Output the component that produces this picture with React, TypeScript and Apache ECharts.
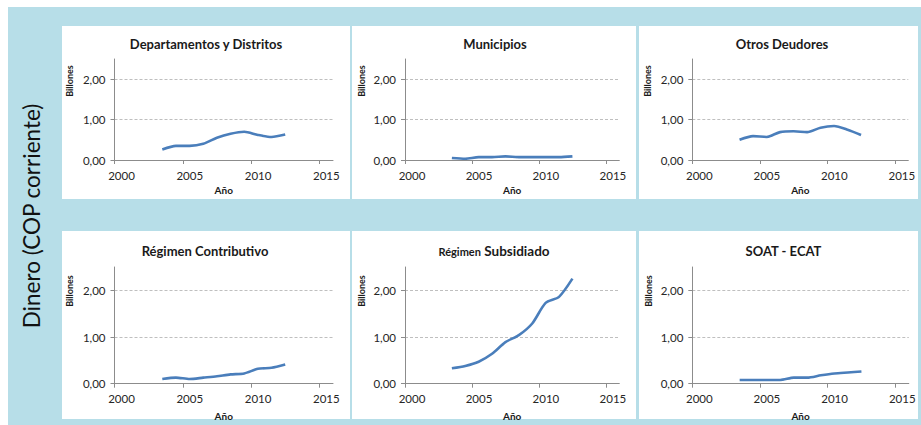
import React, { useEffect, useRef } from "react";
import * as echarts from "echarts";

// ---- data ----
const years = [2003, 2004, 2005, 2006, 2007, 2008, 2009, 2010, 2011, 2012];
const departamentos = [0.26, 0.35, 0.35, 0.4, 0.55, 0.65, 0.7, 0.62, 0.57, 0.63];
const municipios = [0.05, 0.03, 0.07, 0.07, 0.09, 0.07, 0.07, 0.07, 0.07, 0.09];
const otrosDeudores = [0.5, 0.59, 0.57, 0.69, 0.71, 0.69, 0.8, 0.84, 0.75, 0.62];
const contributivo = [0.1, 0.13, 0.1, 0.13, 0.16, 0.2, 0.22, 0.32, 0.34, 0.41];
const subsidiado = [0.33, 0.38, 0.47, 0.64, 0.89, 1.04, 1.29, 1.73, 1.86, 2.25];
const soatEcat = [0.08, 0.08, 0.08, 0.08, 0.13, 0.13, 0.18, 0.22, 0.24, 0.26];
const panelTitles = [
  "Departamentos y Distritos",
  "Municipios",
  "Otros Deudores",
  "Régimen Contributivo",
  "Régimen Subsidiado",
  "SOAT - ECAT",
];
const xTicks = [2000, 2005, 2010, 2015];
const yTicks = [0, 1, 2];
const xName = "Año";
const yName = "Billones";
const sideLabel = "Dinero (COP corriente)";

const seriesValues = [departamentos, municipios, otrosDeudores, contributivo, subsidiado, soatEcat];

// ---- layout (chart coordinates) ----
const FONT = "Lato, 'Open Sans', sans-serif";
const panels = [
  { x: 54, y: 19, w: 288, h: 173 },
  { x: 344, y: 19, w: 284, h: 173 },
  { x: 631, y: 19, w: 279, h: 173 },
  { x: 54, y: 224, w: 288, h: 188 },
  { x: 344, y: 224, w: 284, h: 188 },
  { x: 631, y: 224, w: 279, h: 188 },
];
const grids = [
  { left: 106.5, top: 52, width: 218.5, height: 101 },
  { left: 397, top: 52, width: 214.3, height: 101 },
  { left: 684.3, top: 52, width: 216, height: 101 },
  { left: 106.5, top: 260, width: 218.5, height: 116.7 },
  { left: 397, top: 260, width: 214.3, height: 116.7 },
  { left: 684.3, top: 260, width: 216.5, height: 116.7 },
];
const titleCenters = [
  { x: 198, y: 37 },
  { x: 487, y: 37 },
  { x: 774, y: 37 },
  { x: 197, y: 244 },
  { x: 486, y: 244 },
  { x: 775.5, y: 244 },
];
const yNamePos = [
  { x: 61.7, y: 74 },
  { x: 353, y: 74 },
  { x: 639, y: 74 },
  { x: 61.5, y: 284 },
  { x: 353, y: 284 },
  { x: 640, y: 284 },
];

const fmt = (v: number) => v.toFixed(2).replace(".", ",");

export default function App() {
  const ref = useRef<HTMLDivElement>(null);
  useEffect(() => {
    if (!ref.current) return;
    const chart = echarts.init(ref.current, undefined, { renderer: "svg" });

    const graphics: any[] = [];
    panels.forEach((p) => {
      graphics.push({
        type: "rect",
        shape: { x: p.x, y: p.y, width: p.w, height: p.h },
        style: { fill: "#ffffff" },
        z: -10,
        silent: true,
      });
    });
    panelTitles.forEach((t, i) => {
      const c = titleCenters[i];
      const isSub = i === 4;
      graphics.push({
        type: "text",
        x: c.x,
        y: c.y,
        z: 10,
        style: isSub
          ? {
              text: "{a|Régimen} {b|Subsidiado}",
              align: "center",
              verticalAlign: "middle",
              rich: {
                a: { fontFamily: FONT, fontWeight: "bold", fontSize: 11, fill: "#1a1a1a", color: "#1a1a1a" },
                b: { fontFamily: FONT, fontWeight: "bold", fontSize: 13.5, fill: "#1a1a1a", color: "#1a1a1a" },
              },
            }
          : {
              text: t,
              align: "center",
              verticalAlign: "middle",
              fontFamily: FONT,
              fontWeight: "bold",
              fontSize: 13,
              fill: "#1a1a1a",
            },
      });
    });
    yNamePos.forEach((p) => {
      graphics.push({
        type: "text",
        x: p.x,
        y: p.y,
        rotation: Math.PI / 2,
        z: 10,
        style: {
          text: yName,
          align: "center",
          verticalAlign: "middle",
          fontFamily: FONT,
          fontWeight: "bold",
          fontSize: 9,
          fill: "#1a1a1a",
        },
      });
    });
    graphics.push({
      type: "text",
      x: 23,
      y: 209,
      rotation: Math.PI / 2,
      z: 10,
      style: {
        text: sideLabel,
        align: "center",
        verticalAlign: "middle",
        fontFamily: FONT,
        fontSize: 22.5,
        fill: "#111111",
      },
    });

    const option: any = {
      animation: false,
      backgroundColor: "#B7DEE8",
      graphic: graphics,
      grid: grids.map((g) => ({ ...g })),
      xAxis: grids.map((_, i) => ({
        type: "value",
        gridIndex: i,
        min: 2000,
        max: 2016,
        interval: 5,
        name: xName,
        nameLocation: "middle",
        nameGap: i < 3 ? 25 : 27,
        nameTextStyle: { fontFamily: FONT, fontWeight: "bold", fontSize: 10, color: "#1a1a1a" },
        axisLine: { show: true, onZero: false, lineStyle: { color: "#8c8c8c", width: 1 } },
        axisTick: { show: true, length: 4, lineStyle: { color: "#8c8c8c" }, customValues: xTicks },
        axisLabel: {
          fontFamily: FONT,
          fontSize: 11.5,
          color: "#262626",
          margin: 9,
          padding: [0, 0, 0, 14],
          customValues: xTicks,
          formatter: (v: number) => (xTicks.indexOf(v) >= 0 ? String(v) : ""),
        },
        splitLine: { show: false },
      })),
      yAxis: grids.map((_, i) => ({
        type: "value",
        gridIndex: i,
        min: 0,
        max: 2.5,
        interval: 1,
        axisLine: { show: true, lineStyle: { color: "#8c8c8c", width: 1 } },
        axisTick: { show: true, length: 4, lineStyle: { color: "#8c8c8c" }, customValues: yTicks },
        axisLabel: {
          fontFamily: FONT,
          fontSize: 11.5,
          color: "#262626",
          margin: 9,
          customValues: yTicks,
          formatter: (v: number) => (yTicks.indexOf(v) >= 0 ? fmt(v) : ""),
        },
        splitLine: {
          show: true,
          showMinLine: false,
          showMaxLine: true,
          lineStyle: { color: "#bfbfbf", type: [3, 2], width: 1 },
        },
      })),
      series: seriesValues.map((vals, i) => ({
        type: "line",
        name: panelTitles[i],
        xAxisIndex: i,
        yAxisIndex: i,
        data: vals.map((v, k) => [years[k] + 0.5, v]),
        showSymbol: false,
        smooth: 0.25,
        lineStyle: { color: "#4A7EBB", width: 2.6 },
        itemStyle: { color: "#4A7EBB" },
      })),
    };
    chart.setOption(option);
    return () => chart.dispose();
  }, []);

  return (
    <div
      ref={ref}
      style={{ position: "fixed", left: 8, top: 7, right: 0, bottom: 0, width: 913, height: 418 }}
    />
  );
}
